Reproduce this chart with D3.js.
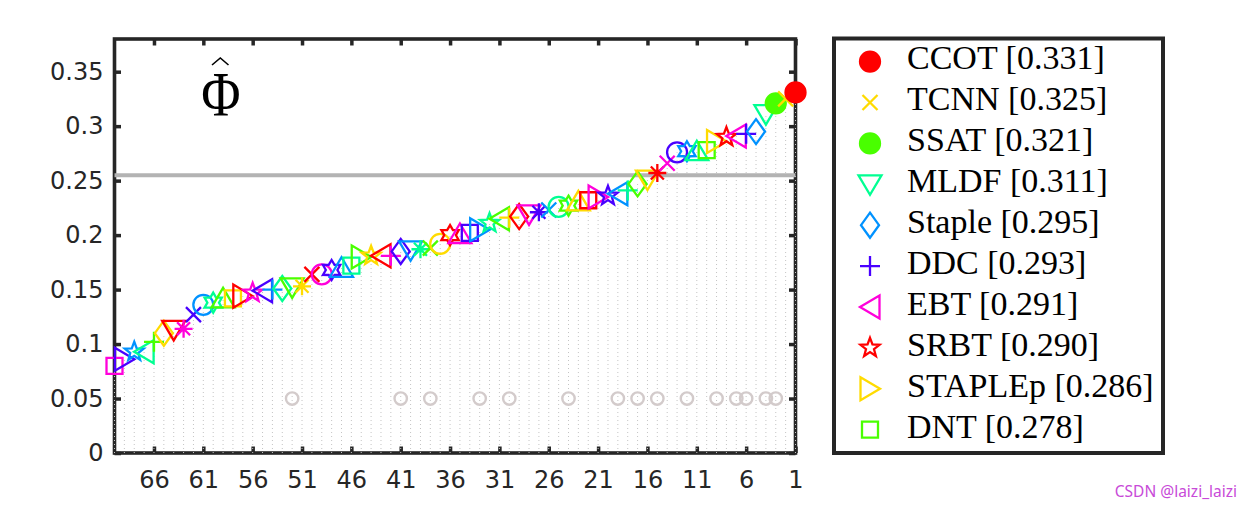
<!DOCTYPE html>
<html><head><meta charset="utf-8">
<script src="https://cdn.jsdelivr.net/npm/d3@7"></script>
<style>
body{margin:0;background:#fff;} svg{display:block}
.serif{font-family:"Liberation Serif","Times New Roman","DejaVu Serif",serif;}
.sans{font-family:"DejaVu Sans",sans-serif;}
</style>
</head><body>
<svg id="chart" width="1250" height="509"></svg>
<script>
// ---------------- data ----------------
const legendNames = ["CCOT","TCNN","SSAT","MLDF","Staple","DDC","EBT","SRBT","STAPLEp","DNT"];
const ranks = d3.range(1, 71);
const eaoValues = [
  0.331,0.325,0.321,0.311,0.295,0.293,0.291,0.290,0.286,0.278,
  0.277,0.277,0.276,0.266,0.257,0.251,0.247,0.241,0.238,0.236,
  0.235,0.232,0.231,0.227,0.226,0.223,0.221,0.219,0.217,0.216,
  0.215,0.211,0.205,0.202,0.201,0.200,0.192,0.188,0.187,0.186,
  0.185,0.181,0.181,0.181,0.180,0.172,0.170,0.168,0.164,0.164,
  0.153,0.152,0.151,0.150,0.149,0.147,0.144,0.142,0.142,0.138,
  0.136,0.127,0.114,0.113,0.110,0.102,0.093,0.093,0.086,0.080];
const highlightRanks = [3,4,6,7,9,12,15,17,19,24,30,33,38,41,52];
const highlightLevel = 0.05;
const boundLevel = 0.255;
const xTicks = [66,61,56,51,46,41,36,31,26,21,16,11,6,1];
const yTicks = [0,0.05,0.1,0.15,0.2,0.25,0.3,0.35];
const yTickLabels = ["0","0.05","0.1","0.15","0.2","0.25","0.3","0.35"];

// ---------------- styles ----------------
const palette = ["#ff0000","#ffdb00","#49ff00","#00ff92","#0092ff","#4900ff","#ff00db"];
const markerCycle = ["o","x","*","v","d","+","<","p",">","s","^","h"];
const markerOverride = {3: "o"};
const filledRanks = [1, 3];
const axisColor = "#262626";

function starPath(n, R, r) {
  let pts = [];
  for (let i = 0; i < 2 * n; i++) {
    const a = -Math.PI / 2 + i * Math.PI / n;
    const rad = i % 2 === 0 ? R : r;
    pts.push([rad * Math.cos(a), rad * Math.sin(a)]);
  }
  return "M" + pts.map(p => p[0].toFixed(2) + "," + p[1].toFixed(2)).join("L") + "Z";
}
function markerPath(t) {
  switch (t) {
    case "o": return "M10,0A10,10 0 1,1 -10,0A10,10 0 1,1 10,0Z";
    case "x": return "M-7.5,-7.5L7.5,7.5M-7.5,7.5L7.5,-7.5";
    case "+": return "M-10,0L10,0M0,-10L0,10";
    case "*": return "M-9,0L9,0M0,-9L0,9M-6.5,-6.5L6.5,6.5M-6.5,6.5L6.5,-6.5";
    case "s": return "M-8,-8H8V8H-8Z";
    case "d": return "M0,-12.5L9,0L0,12.5L-9,0Z";
    case "v": return "M-11.5,-9L11.5,-9L0,10.5Z";
    case "^": return "M-11.5,9L11.5,9L0,-10.5Z";
    case "<": return "M-10,0L9.5,-11.5L9.5,11.5Z";
    case ">": return "M10,0L-9.5,-11.5L-9.5,11.5Z";
    case "p": return starPath(5, 10, 4.2);
    case "h": return starPath(6, 10, 5.8);
  }
}
const markerOf = r => markerOverride[r] || markerCycle[(r - 1) % markerCycle.length];
const colorOf = r => palette[(r - 1) % palette.length];

// ---------------- layout ----------------
const svg = d3.select("#chart");
const L = 114.5, R = 795.5, T = 39, B = 453;
const x = d3.scaleLinear().domain([70, 1]).range([L, R]);
const y = d3.scaleLinear().domain([0, 0.38]).range([B, T]);

// frame
svg.append("rect").attr("x", L).attr("y", T).attr("width", R - L).attr("height", B - T)
  .attr("fill", "#fff").attr("stroke", axisColor).attr("stroke-width", 3.6);

// axes (ticks inward)
const styleAxis = g => {
  g.select(".domain").remove();
  g.attr("font-family", null).attr("font-size", null);
  g.selectAll(".tick line").attr("stroke", axisColor).attr("stroke-width", 3.5);
  g.selectAll("text").attr("fill", axisColor).attr("class", "sans").style("font-size", "24px");
};
svg.append("g").attr("transform", `translate(0,${B})`)
  .call(d3.axisBottom(x).tickValues(xTicks).tickSizeInner(-6.5).tickSizeOuter(0).tickFormat(d3.format("d")))
  .call(styleAxis)
  .call(g => g.selectAll("text").attr("y", 34.5).attr("dy", 0));
svg.append("g").attr("transform", `translate(0,${T})`)
  .call(d3.axisTop(x).tickValues(xTicks).tickSizeInner(-6.5).tickSizeOuter(0).tickFormat(""))
  .call(styleAxis);
svg.append("g").attr("transform", `translate(${L},0)`)
  .call(d3.axisLeft(y).tickValues(yTicks).tickSizeInner(-6.5).tickSizeOuter(0).tickPadding(11)
    .tickFormat((d, i) => yTickLabels[i]))
  .call(styleAxis);
svg.append("g").attr("transform", `translate(${R},0)`)
  .call(d3.axisRight(y).tickValues(yTicks).tickSizeInner(-6.5).tickSizeOuter(0).tickFormat(""))
  .call(styleAxis);

// dotted stems
svg.append("g").selectAll("line").data(ranks).join("line")
  .attr("x1", r => x(r)).attr("x2", r => x(r))
  .attr("y1", y(0)).attr("y2", r => y(eaoValues[r - 1]))
  .attr("stroke", "#c4c4c4").attr("stroke-width", 1).attr("stroke-dasharray", "1,3");

// bound line
svg.append("line").attr("x1", L).attr("x2", R).attr("y1", y(boundLevel)).attr("y2", y(boundLevel))
  .attr("stroke", "#b3b3b3").attr("stroke-width", 4);

// highlight circles
svg.append("g").selectAll("circle").data(highlightRanks).join("circle")
  .attr("cx", r => x(r)).attr("cy", y(highlightLevel)).attr("r", 6.2)
  .attr("fill", "none").attr("stroke", "#d3cbcb").attr("stroke-width", 2.4);

// markers
const drawOrder = ranks.slice().reverse();
svg.append("g").selectAll("path").data(drawOrder).join("path")
  .attr("transform", r => `translate(${x(r)},${y(eaoValues[r - 1])})`)
  .attr("d", r => markerPath(markerOf(r)))
  .attr("fill", r => filledRanks.includes(r) ? colorOf(r) : "none")
  .attr("stroke", r => colorOf(r)).attr("stroke-width", 2.3).attr("stroke-linejoin", "miter");

// phi-hat label
svg.append("text").attr("class", "serif").attr("transform", "translate(221,116) scale(0.84,1)")
  .attr("text-anchor", "middle").style("font-size", "64px").attr("fill", "#000").text("Φ");
svg.append("path").attr("d", "M212,65 L220.3,58 L228.5,65").attr("fill", "none")
  .attr("stroke", "#000").attr("stroke-width", 1.6);

// legend
const lg = svg.append("g");
lg.append("rect").attr("x", 834).attr("y", 38.5).attr("width", 329).attr("height", 414.5)
  .attr("fill", "#fff").attr("stroke", axisColor).attr("stroke-width", 4);
const rowY = i => 61.6 + i * 40.9;
legendNames.forEach((name, i) => {
  const r = i + 1;
  lg.append("path").attr("transform", `translate(870,${rowY(i)})`)
    .attr("d", markerPath(markerOf(r)))
    .attr("fill", filledRanks.includes(r) ? colorOf(r) : "none")
    .attr("stroke", colorOf(r)).attr("stroke-width", 2.3);
  lg.append("text").attr("class", "serif").attr("x", 907).attr("y", rowY(i) + 7.8)
    .style("font-size", "34px").attr("fill", "#000")
    .text(`${name} [${eaoValues[i].toFixed(3)}]`);
});

// watermark
svg.append("text").attr("x", 1237).attr("y", 497).attr("text-anchor", "end")
  .style("font-family", "'Noto Sans', sans-serif").style("font-size", "15.5px").attr("fill", "#c84ad8")
  .text("CSDN @laizi_laizi");
</script>
</body></html>
